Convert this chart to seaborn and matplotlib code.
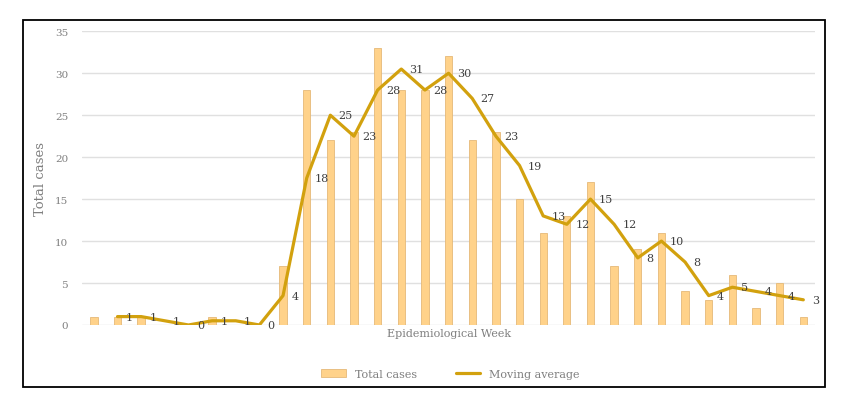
import numpy as np
import pandas as pd
import matplotlib
matplotlib.use("Agg")
import matplotlib.pyplot as plt
from matplotlib.patches import Rectangle
from matplotlib.lines import Line2D
from matplotlib.patches import Patch
import seaborn as sns

# Data
weeks = list(range(1, 32))
total_cases = [1, 1, 1, 0, 0, 1, 0, 0, 7, 28, 22, 23, 33, 28, 28, 32,
               22, 23, 15, 11, 13, 17, 7, 9, 11, 4, 3, 6, 2, 5, 1]
moving_avg = [np.nan, 1, 1, 0.5, 0, 0.5, 0.5, 0, 3.5, 17.5, 25, 22.5, 28,
              30.5, 28, 30, 27, 22.5, 19, 13, 12, 15, 12, 8, 10, 7.5, 3.5,
              4.5, 4, 3.5, 3]
avg_labels = ["", "1", "1", "1", "0", "1", "1", "0", "4", "18", "25", "23",
              "28", "31", "28", "30", "27", "23", "19", "13", "12", "15",
              "12", "8", "10", "8", "4", "5", "4", "4", "3"]

df = pd.DataFrame({"week": weeks, "cases": total_cases, "avg": moving_avg})

sns.set_theme(style="white")
plt.rcParams["font.family"] = ["DejaVu Serif"]

bar_color = "#FFD28A"
line_color = "#D2A10E"
text_gray = "#7F7F7F"

fig = plt.figure(figsize=(8.5, 4.14), dpi=100)
ax = fig.add_axes([0.0965, 0.2126, 0.8625, 0.7094])

sns.barplot(data=df, x="week", y="cases", native_scale=True, color=bar_color,
            saturation=1, width=0.31, edgecolor="#E5B978", linewidth=0.6,
            ax=ax, zorder=2)
sns.lineplot(data=df, x="week", y="avg", color=line_color, linewidth=2.3,
             ax=ax, zorder=3)

for w, v, lab in zip(weeks, moving_avg, avg_labels):
    if lab:
        ax.annotate(lab, (w, v), xytext=(6, 0), textcoords="offset points",
                    ha="left", va="center", fontsize=8, color="#404040",
                    zorder=4)

ax.set_xlim(0.5, 31.5)
ax.set_ylim(0, 35)
ax.set_yticks(range(0, 36, 5))
ax.set_xticks([])
ax.yaxis.grid(True, color="#E0E0E0", linewidth=1)
ax.set_axisbelow(True)
for s in ax.spines.values():
    s.set_visible(False)
ax.tick_params(axis="y", length=0, labelsize=7.5, labelcolor=text_gray, pad=10)
ax.set_xlabel("Epidemiological Week", fontsize=8, color=text_gray, labelpad=2)
ax.set_ylabel("Total cases", fontsize=9.5, color=text_gray, labelpad=6)

handles = [Patch(facecolor=bar_color, edgecolor="#E5B978", linewidth=0.6),
           Line2D([0], [0], color=line_color, linewidth=2.3)]
fig.legend(handles, ["Total cases", "Moving average"], loc="center",
           bbox_to_anchor=(0.53, 0.094), ncol=2, frameon=False, fontsize=8,
           labelcolor=text_gray, columnspacing=3.5, handlelength=2.2)

fig.patches.append(Rectangle((0.0267, 0.0635), 0.9439, 0.8855,
                             transform=fig.transFigure, fill=False,
                             edgecolor="black", linewidth=1.3))

fig.savefig("out.png", dpi=100)
